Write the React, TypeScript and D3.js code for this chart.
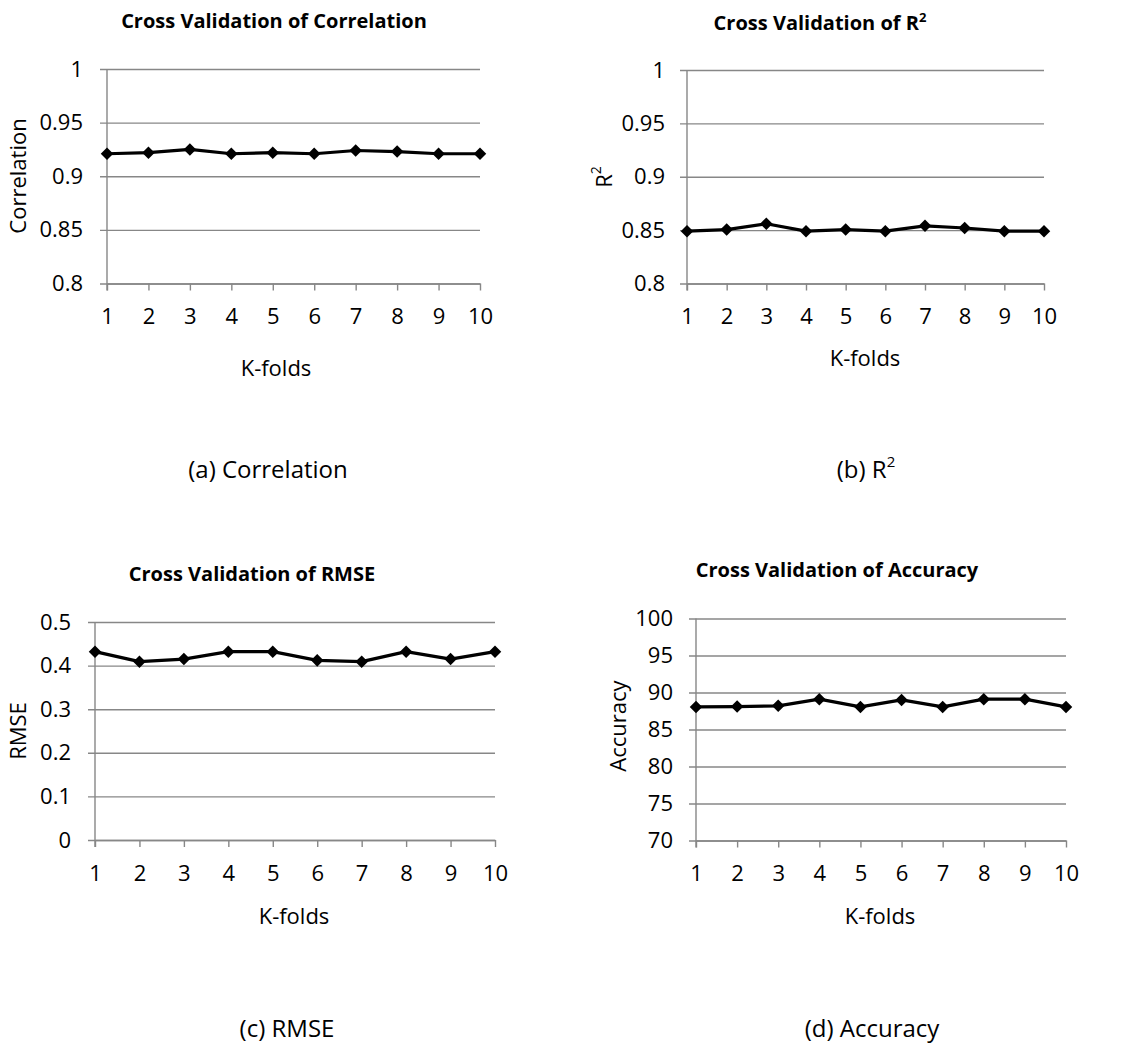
import React, { useEffect, useRef } from 'react';
import * as d3 from 'd3';

// k-fold index on the x axis
const folds = [1, 2, 3, 4, 5, 6, 7, 8, 9, 10];

// values
const correlation = [0.921, 0.922, 0.925, 0.921, 0.922, 0.921, 0.924, 0.923, 0.921, 0.921];
const rSquared = [0.849, 0.8505, 0.856, 0.849, 0.8505, 0.849, 0.854, 0.852, 0.849, 0.849];
const rmse = [0.432, 0.409, 0.415, 0.432, 0.432, 0.412, 0.409, 0.432, 0.415, 0.432];
const accuracy = [88.05, 88.1, 88.2, 89.1, 88.05, 89.0, 88.05, 89.1, 89.1, 88.05];

// y tick labels
const corrTicks = ['0.8', '0.85', '0.9', '0.95', '1'];
const r2Ticks = ['0.8', '0.85', '0.9', '0.95', '1'];
const rmseTicks = ['0', '0.1', '0.2', '0.3', '0.4', '0.5'];
const accTicks = ['70', '75', '80', '85', '90', '95', '100'];

const FONT = '"Open Sans", "Noto Sans", sans-serif';
const GRID = '#878787';

// layout of each panel (pixels on the page)
const panels = [
  {
    values: correlation, ticks: corrTicks, title: 'Cross Validation of Correlation', yLabel: 'Correlation',
    caption: '(a) Correlation', sup: false,
    left: 107, right: 480, top: 69, bottom: 283.5, yPad: 24,
    titleX: 274, titleY: 28, yLabelX: 18, yLabelY: 176, kX: 276, kY: 376, capX: 268, capY: 478,
  },
  {
    values: rSquared, ticks: r2Ticks, title: 'Cross Validation of R', yLabel: 'R',
    caption: '(b) R', sup: true,
    left: 687, right: 1044, top: 70, bottom: 283.5, yPad: 22,
    titleX: 820, titleY: 30, yLabelX: 604, yLabelY: 177, kX: 865, kY: 366, capX: 866, capY: 478,
  },
  {
    values: rmse, ticks: rmseTicks, title: 'Cross Validation of RMSE', yLabel: 'RMSE',
    caption: '(c) RMSE', sup: false,
    left: 95, right: 495, top: 622, bottom: 840, yPad: 24,
    titleX: 252, titleY: 581, yLabelX: 18, yLabelY: 731, kX: 294, kY: 924, capX: 287, capY: 1037,
  },
  {
    values: accuracy, ticks: accTicks, title: 'Cross Validation of Accuracy', yLabel: 'Accuracy',
    caption: '(d) Accuracy', sup: false,
    left: 696, right: 1066, top: 618.5, bottom: 840.5, yPad: 23,
    titleX: 837, titleY: 577, yLabelX: 618, yLabelY: 726, kX: 880, kY: 924, capX: 872, capY: 1037,
  },
];

function App() {
  const svgRef = useRef(null);

  useEffect(() => {
    const svg = d3.select(svgRef.current);
    svg.selectAll('*').remove();

    panels.forEach((p) => {
      const g = svg.append('g');
      const tickNums = p.ticks.map(Number);

      const x = d3.scaleLinear().domain([1, 10]).range([p.left, p.right]);
      const y = d3
        .scaleLinear()
        .domain([d3.min(tickNums), d3.max(tickNums)])
        .range([p.bottom, p.top]);

      // horizontal gridlines + y tick labels
      g.append('g')
        .attr('transform', 'translate(' + p.left + ',0)')
        .call(
          d3
            .axisLeft(y)
            .tickValues(tickNums)
            .tickSize(-(p.right - p.left))
            .tickSizeOuter(0)
            .tickPadding(p.yPad)
            .tickFormat((d, i) => p.ticks[i])
        )
        .call((ax) => ax.select('.domain').remove())
        .call((ax) => ax.selectAll('line').attr('stroke', GRID).attr('stroke-width', 1.4).attr('x1', -7))
        .call((ax) =>
          ax.selectAll('text').attr('fill', '#000').style('font-family', FONT).style('font-size', '22px')
        );

      // vertical axis line
      g.append('line')
        .attr('x1', p.left)
        .attr('x2', p.left)
        .attr('y1', p.top)
        .attr('y2', p.bottom + 7)
        .attr('stroke', GRID)
        .attr('stroke-width', 1.4);

      // x axis with ticks under each fold
      g.append('g')
        .attr('transform', 'translate(0,' + p.bottom + ')')
        .call(d3.axisBottom(x).tickValues(folds).tickSize(7).tickSizeOuter(0).tickPadding(18).tickFormat(d3.format('d')))
        .call((ax) => ax.select('.domain').attr('stroke', GRID).attr('stroke-width', 1.4))
        .call((ax) => ax.selectAll('line').attr('stroke', GRID).attr('stroke-width', 1.4))
        .call((ax) =>
          ax.selectAll('text').attr('fill', '#000').style('font-family', FONT).style('font-size', '22px')
        );

      // data line
      const line = d3
        .line()
        .x((d, i) => x(folds[i]))
        .y((d) => y(d));
      g.append('path')
        .datum(p.values)
        .attr('d', line)
        .attr('fill', 'none')
        .attr('stroke', '#000')
        .attr('stroke-width', 3.2)
        .attr('stroke-linejoin', 'round');

      // diamond markers
      const diamond = d3.symbol().type(d3.symbolDiamond2).size(100);
      g.selectAll('.marker')
        .data(p.values)
        .enter()
        .append('path')
        .attr('class', 'marker')
        .attr('d', diamond)
        .attr('transform', (d, i) => 'translate(' + x(folds[i]) + ',' + y(d) + ')')
        .attr('fill', '#000');

      // title
      const t = g
        .append('text')
        .attr('x', p.titleX)
        .attr('y', p.titleY)
        .attr('text-anchor', 'middle')
        .style('font-family', FONT)
        .style('font-size', '20px')
        .style('font-weight', 'bold')
        .text(p.title);
      if (p.sup) t.append('tspan').attr('dy', -8).style('font-size', '13px').text('2');

      // y label
      const yl = g
        .append('text')
        .attr('transform', 'translate(' + p.yLabelX + ',' + p.yLabelY + ') rotate(-90)')
        .attr('text-anchor', 'middle')
        .attr('dy', '0.35em')
        .style('font-family', FONT)
        .style('font-size', '22px')
        .text(p.yLabel);
      if (p.sup) yl.append('tspan').attr('dy', '-0.75em').style('font-size', '14px').text('2');

      // x label
      g.append('text')
        .attr('x', p.kX)
        .attr('y', p.kY)
        .attr('text-anchor', 'middle')
        .style('font-family', FONT)
        .style('font-size', '22px')
        .text('K-folds');

      // caption under the panel
      const c = g
        .append('text')
        .attr('x', p.capX)
        .attr('y', p.capY)
        .attr('text-anchor', 'middle')
        .style('font-family', FONT)
        .style('font-size', '24px')
        .text(p.caption);
      if (p.sup) c.append('tspan').attr('dy', -11).style('font-size', '15px').text('2');
    });
  }, []);

  return (
    <svg
      ref={svgRef}
      width={1148}
      height={1044}
      style={{ position: 'absolute', left: 0, top: 0, background: '#fff' }}
    />
  );
}

export default App;
